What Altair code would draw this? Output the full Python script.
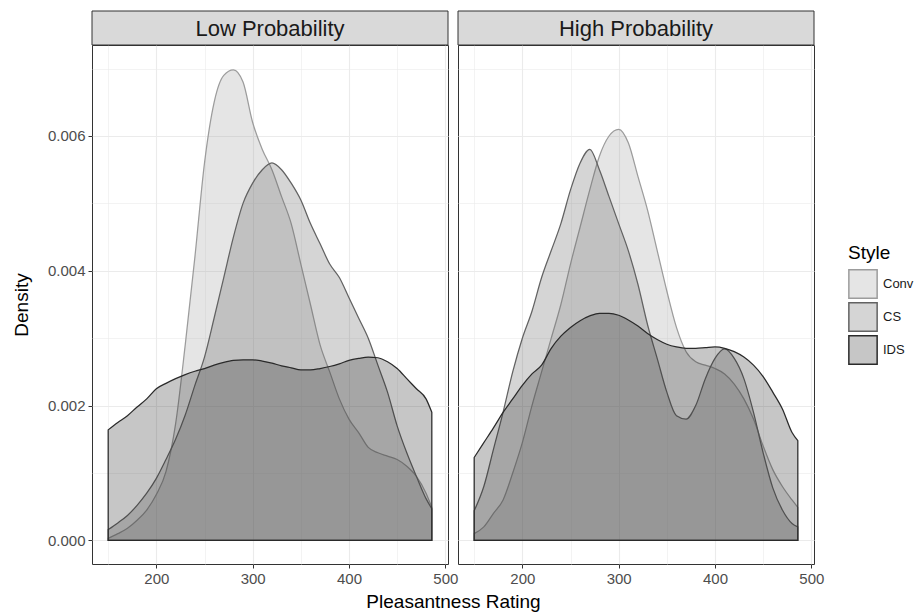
import altair as alt
import pandas as pd

# ---------------- data ----------------
x_grid = [150, 160, 170, 180, 190, 200, 210, 220, 230, 240, 250, 260, 270, 280,
          290, 300, 310, 320, 330, 340, 350, 360, 370, 380, 390, 400, 410, 420,
          430, 440, 450, 460, 470, 480, 486]

panels = ["Low Probability", "High Probability"]
styles = ["Conv", "CS", "IDS"]

low_conv = [0.00003, 0.0001, 0.00018, 0.0003, 0.00045, 0.00068, 0.00102, 0.00173,
            0.0029, 0.0042, 0.0056, 0.0065, 0.0069, 0.00698, 0.0068, 0.0062, 0.0058,
            0.0055, 0.0051, 0.0047, 0.0041, 0.0035, 0.0029, 0.0025, 0.0021, 0.0018,
            0.0016, 0.00138, 0.0013, 0.00125, 0.0012, 0.0011, 0.00095, 0.0007, 0.00049]
low_cs = [0.00016, 0.00026, 0.00037, 0.00052, 0.0007, 0.00092, 0.0012, 0.0015, 0.00186,
          0.0023, 0.00272, 0.0033, 0.0039, 0.0045, 0.005, 0.0053, 0.0055, 0.0056, 0.0055,
          0.0053, 0.00505, 0.0047, 0.0044, 0.0041, 0.0039, 0.0036, 0.0033, 0.003, 0.0026,
          0.0022, 0.0017, 0.0013, 0.00095, 0.00062, 0.00047]
low_ids = [0.00164, 0.00175, 0.00185, 0.00198, 0.0021, 0.00225, 0.00233, 0.0024, 0.00246,
           0.00251, 0.00255, 0.0026, 0.00264, 0.00267, 0.00268, 0.00268, 0.00266, 0.00263,
           0.00259, 0.00256, 0.00253, 0.00253, 0.00255, 0.00258, 0.00262, 0.00267, 0.0027,
           0.00272, 0.00271, 0.00265, 0.00255, 0.0024, 0.00225, 0.0021, 0.0019]
high_conv = [0.0001, 0.0002, 0.0004, 0.0006, 0.001, 0.00145, 0.002, 0.0025, 0.003, 0.0035,
             0.0041, 0.00465, 0.0052, 0.0057, 0.006, 0.0061, 0.0059, 0.0054, 0.0049, 0.0043,
             0.0037, 0.00316, 0.0028, 0.00265, 0.0026, 0.00255, 0.00247, 0.00232, 0.0021,
             0.0018, 0.0014, 0.00105, 0.0008, 0.0006, 0.00049]
high_cs = [0.00044, 0.0008, 0.00135, 0.0019, 0.0025, 0.003, 0.0034, 0.0039, 0.0043, 0.0047,
           0.0052, 0.0056, 0.0058, 0.0055, 0.0051, 0.0047, 0.0043, 0.0038, 0.0032, 0.0027,
           0.0022, 0.00185, 0.0018, 0.002, 0.0024, 0.0027, 0.00284, 0.0027, 0.0024, 0.0019,
           0.0013, 0.00078, 0.00045, 0.00025, 0.0002]
high_ids = [0.00123, 0.00145, 0.00167, 0.0019, 0.0021, 0.0023, 0.00247, 0.0026, 0.00285,
            0.00303, 0.00316, 0.00326, 0.00333, 0.00337, 0.00337, 0.00334, 0.00327, 0.00318,
            0.00307, 0.00298, 0.00291, 0.00287, 0.00285, 0.00285, 0.00286, 0.00287, 0.00285,
            0.0028, 0.00272, 0.0026, 0.00243, 0.0022, 0.00195, 0.0016, 0.00148]

series = {
    ("Low Probability", "Conv"): low_conv,
    ("Low Probability", "CS"): low_cs,
    ("Low Probability", "IDS"): low_ids,
    ("High Probability", "Conv"): high_conv,
    ("High Probability", "CS"): high_cs,
    ("High Probability", "IDS"): high_ids,
}

rows = []
for (panel, style), vals in series.items():
    for xv, yv in zip(x_grid, vals):
        rows.append({"panel": panel, "style": style, "x": xv, "density": yv})
df = pd.DataFrame(rows)

# ---------------- styling ----------------
FONT = "Liberation Sans"
W, H = 356, 519
STRIP = 34
fill_range = ["rgba(151,151,151,0.25)", "rgba(88,88,88,0.25)", "rgba(26,26,26,0.25)"]
stroke_range = ["#9c9c9c", "#626262", "#2a2a2a"]

x_scale = alt.Scale(domain=[133.2, 502.8], nice=False, zero=False)
y_scale = alt.Scale(domain=[-0.00035, 0.00735], nice=False, zero=False)

x_vals = [150, 200, 250, 300, 350, 400, 450, 500]
y_vals = [0, 0.001, 0.002, 0.003, 0.004, 0.005, 0.006, 0.007]

minor_x = "datum.value % 100 !== 0"
minor_y = "round(datum.value * 1000) % 2 !== 0"


def panel_chart(name, first):
    sub = df[df["panel"] == name]
    x_axis = alt.Axis(
        values=x_vals,
        labelExpr="datum.value % 100 === 0 ? datum.label : ''",
        tickOpacity={"condition": {"test": minor_x, "value": 0}, "value": 1},
        gridWidth={"condition": {"test": minor_x, "value": 0.6}, "value": 1.1},
        title="Pleasantness Rating" if first else None,
        titleX=W + 5 if first else alt.Undefined,
        titleAlign="center",
        titlePadding=6,
    )
    if first:
        y_axis = alt.Axis(
            values=y_vals,
            labelExpr="round(datum.value * 1000) % 2 === 0 ? format(datum.value, '.3f') : ''",
            tickOpacity={"condition": {"test": minor_y, "value": 0}, "value": 1},
            gridWidth={"condition": {"test": minor_y, "value": 0.6}, "value": 1.1},
            title="Density",
            titlePadding=16,
        )
    else:
        y_axis = alt.Axis(
            values=y_vals,
            labels=False,
            ticks=False,
            gridWidth={"condition": {"test": minor_y, "value": 0.6}, "value": 1.1},
            title=None,
        )
    legend = alt.Legend(title="Style", orient="none", legendX=756, legendY=199)
    area = alt.Chart(sub).mark_area(
        fillOpacity=1, strokeWidth=1.25, interpolate="monotone"
    ).encode(
        x=alt.X("x:Q", scale=x_scale, axis=x_axis),
        y=alt.Y("density:Q", stack=None, scale=y_scale, axis=y_axis),
        y2=alt.datum(0),
        fill=alt.Fill("style:N", scale=alt.Scale(domain=styles, range=fill_range),
                      legend=legend),
        stroke=alt.Stroke("style:N", scale=alt.Scale(domain=styles, range=stroke_range),
                          legend=legend),
    )
    head_df = pd.DataFrame({"label": [name]})
    strip = alt.Chart(head_df).mark_rect(
        fill="#d9d9d9", stroke="#333333", strokeWidth=1
    ).encode(
        x=alt.value(0), x2=alt.value(W), y=alt.value(-STRIP), y2=alt.value(0)
    )
    label = alt.Chart(head_df).mark_text(
        fontSize=22, font=FONT, color="#1a1a1a", baseline="middle", align="center"
    ).encode(
        x=alt.value(W / 2), y=alt.value(-STRIP / 2 + 1), text="label:N"
    )
    return alt.layer(area, strip, label).properties(width=W, height=H)


chart = alt.hconcat(
    panel_chart("Low Probability", True),
    panel_chart("High Probability", False),
    spacing=10,
    bounds="flush",
).properties(
    padding={"left": 11, "top": 10, "right": 2, "bottom": 2}
).configure(
    font=FONT,
).configure_view(
    stroke="#333333", strokeWidth=1
).configure_axis(
    domain=False,
    gridColor="#ebebeb",
    tickColor="#333333",
    tickSize=4,
    labelColor="#4d4d4d",
    labelFontSize=15,
    labelPadding=3,
    titleColor="#000000",
    titleFontSize=19,
    titleFontWeight="normal",
    labelFont=FONT,
    titleFont=FONT,
).configure_legend(
    titleFontSize=19,
    titleFontWeight="normal",
    titleColor="#000000",
    labelFontSize=13,
    labelColor="#1a1a1a",
    labelOffset=5,
    symbolType="square",
    symbolSize=800,
    symbolStrokeWidth=1.5,
    rowPadding=-5,
    labelFont=FONT,
    titleFont=FONT,
    titlePadding=6,
)

chart.save("out.html", embed_options={"renderer": "svg", "actions": False})
